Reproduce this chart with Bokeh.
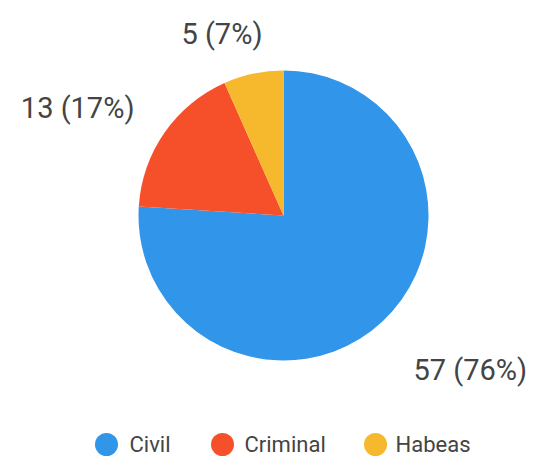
import math
from bokeh.plotting import figure
from bokeh.models import Range1d
from bokeh.core.properties import value
from bokeh.embed import file_html
from bokeh.resources import INLINE

# ---- data ----
categories = ["Civil", "Criminal", "Habeas"]
counts = [57, 13, 5]
colors = ["#3195E9", "#F6502B", "#F6B92D"]

# ---- layout (screen pixels) ----
W, H = 534, 460
cx, cy, R = 283, 215, 145
label_pos = [(413, 369, "left"), (134, 107, "right"), (262, 33, "right")]
legend_y = 444
legend_dot_x = [106, 222, 375]
legend_text_x = [129, 244, 395]
text_color = "#444444"

def sy(y):
    return H - y

p = figure(width=W, height=H, output_backend="svg",
           toolbar_location=None, min_border=0,
           x_range=Range1d(0, W), y_range=Range1d(0, H))
p.axis.visible = False
p.grid.visible = False
p.outline_line_color = None
p.background_fill_color = "white"

total = sum(counts)
start = math.pi / 2
for cat, n, col, (lx, ly, al) in zip(categories, counts, colors, label_pos):
    sweep = 2 * math.pi * n / total
    end = start - sweep
    p.wedge(x=cx, y=sy(cy), radius=R, start_angle=end, end_angle=start,
            direction="anticlock", fill_color=col, line_color=None)
    pct = round(100 * n / total)
    p.text(x=[lx], y=[sy(ly)], text=[f"{n} ({pct}%)"], text_align=al,
           text_baseline="alphabetic", text_font=value("Roboto"),
           text_font_size="29px", text_color=text_color)
    start = end

for cat, col, dx, tx in zip(categories, colors, legend_dot_x, legend_text_x):
    p.scatter(x=[dx], y=[sy(legend_y)], size=23, marker="circle",
              fill_color=col, line_color=None)
    p.text(x=[tx], y=[sy(legend_y)], text=[cat], text_align="left",
           text_baseline="middle", text_font=value("Roboto"),
           text_font_size="22px", text_color=text_color)

open("out.html", "w").write(file_html(p, INLINE))
